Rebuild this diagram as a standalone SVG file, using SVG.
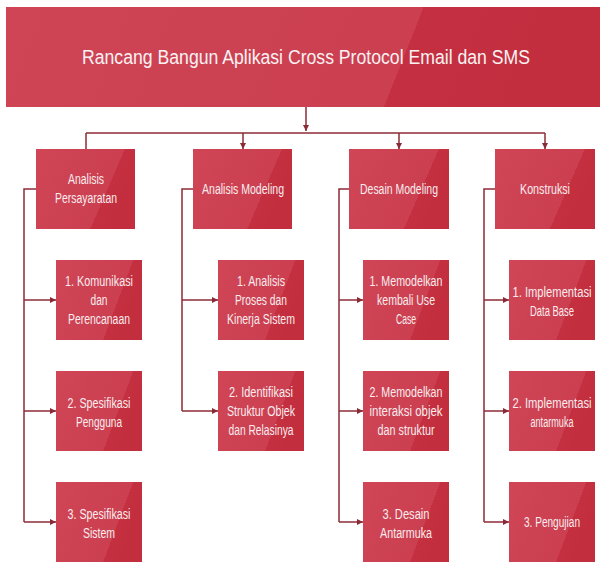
<svg xmlns="http://www.w3.org/2000/svg" width="600" height="564" viewBox="0 0 600 564">
  <defs>
    <!-- two-tone red fill with a diagonal sheen split -->
    <linearGradient id="boxFill" x1="0" y1="0" x2="1" y2="0.35">
      <stop offset="0" stop-color="#D04657"/>
      <stop offset="0.8" stop-color="#CB3F50"/>
      <stop offset="0.8" stop-color="#C43040"/>
      <stop offset="1" stop-color="#C22E3E"/>
    </linearGradient>
    <linearGradient id="titleFill" x1="0" y1="0" x2="1" y2="0.067">
      <stop offset="0" stop-color="#CF4556"/>
      <stop offset="0.70" stop-color="#CB3F50"/>
      <stop offset="0.70" stop-color="#C43041"/>
      <stop offset="1" stop-color="#C22E3E"/>
    </linearGradient>
    <marker id="arrow" markerWidth="6" markerHeight="6" refX="6" refY="3" orient="auto" markerUnits="userSpaceOnUse">
      <path d="M0,0 L6,3 L0,6 z" fill="#8B2935"/>
    </marker>
  </defs>
  <style>
    .box { fill: url(#boxFill); }
    .title { fill: url(#titleFill); }
    .lbl { font-family: "Liberation Sans", Arial, sans-serif; font-size: 14px; fill: #F8ECEE; text-anchor: middle; }
    .ttl { font-family: "Liberation Sans", Arial, sans-serif; font-size: 20px; fill: #FAF2F3; text-anchor: middle; }
    .conn { fill: none; stroke: #8E2B37; stroke-width: 1.5; }
  </style>
  <rect width="600" height="564" fill="#FFFFFF"/>

  <!-- connectors -->
  <g id="connectors">
    <path class="conn" d="M306,107 V131" marker-end="url(#arrow)"/>
    <path class="conn" d="M86,133 H545"/>
    <path class="conn" d="M86,133 V149"/>
    <path class="conn" d="M243,133 V149" marker-end="url(#arrow)"/>
    <path class="conn" d="M399,133 V149" marker-end="url(#arrow)"/>
    <path class="conn" d="M545,133 V149" marker-end="url(#arrow)"/>

    <path class="conn" d="M36,189 H24 V522"/>
    <path class="conn" d="M24,300 H56" marker-end="url(#arrow)"/>
    <path class="conn" d="M24,411 H56" marker-end="url(#arrow)"/>
    <path class="conn" d="M24,522 H56" marker-end="url(#arrow)"/>

    <path class="conn" d="M193,189 H182 V411"/>
    <path class="conn" d="M182,300 H218" marker-end="url(#arrow)"/>
    <path class="conn" d="M182,411 H218" marker-end="url(#arrow)"/>

    <path class="conn" d="M349,189 H339 V522"/>
    <path class="conn" d="M339,300 H363" marker-end="url(#arrow)"/>
    <path class="conn" d="M339,411 H363" marker-end="url(#arrow)"/>
    <path class="conn" d="M339,522 H363" marker-end="url(#arrow)"/>

    <path class="conn" d="M495,189 H484 V522"/>
    <path class="conn" d="M484,300 H509" marker-end="url(#arrow)"/>
    <path class="conn" d="M484,411 H509" marker-end="url(#arrow)"/>
    <path class="conn" d="M484,522 H509" marker-end="url(#arrow)"/>
  </g>

  <!-- root -->
  <g id="root">
    <rect class="title" x="6" y="7" width="594" height="100"/>
    <text class="ttl" x="306" y="64" textLength="448" lengthAdjust="spacingAndGlyphs">Rancang Bangun Aplikasi Cross Protocol Email dan SMS</text>
  </g>

  <!-- phases -->
  <g id="analisis-persyaratan">
    <rect class="box" x="36" y="149" width="99" height="80"/>
    <text class="lbl" x="86" y="184" textLength="36" lengthAdjust="spacingAndGlyphs">Analisis</text>
    <text class="lbl" x="86" y="203" textLength="62" lengthAdjust="spacingAndGlyphs">Persayaratan</text>
  </g>
  <g id="analisis-modeling">
    <rect class="box" x="193" y="149" width="99" height="80"/>
    <text class="lbl" x="243" y="194" textLength="82" lengthAdjust="spacingAndGlyphs">Analisis Modeling</text>
  </g>
  <g id="desain-modeling">
    <rect class="box" x="349" y="149" width="100" height="80"/>
    <text class="lbl" x="399" y="194" textLength="78" lengthAdjust="spacingAndGlyphs">Desain Modeling</text>
  </g>
  <g id="konstruksi">
    <rect class="box" x="495" y="149" width="100" height="80"/>
    <text class="lbl" x="545" y="194" textLength="50" lengthAdjust="spacingAndGlyphs">Konstruksi</text>
  </g>

  <!-- column 1 tasks -->
  <g id="komunikasi">
    <rect class="box" x="56" y="260" width="86" height="80"/>
    <text class="lbl" x="99" y="286" textLength="68" lengthAdjust="spacingAndGlyphs">1. Komunikasi</text>
    <text class="lbl" x="99" y="305" textLength="17" lengthAdjust="spacingAndGlyphs">dan</text>
    <text class="lbl" x="99" y="324" textLength="62" lengthAdjust="spacingAndGlyphs">Perencanaan</text>
  </g>
  <g id="spesifikasi-pengguna">
    <rect class="box" x="56" y="371" width="86" height="80"/>
    <text class="lbl" x="99" y="408" textLength="63" lengthAdjust="spacingAndGlyphs">2. Spesifikasi</text>
    <text class="lbl" x="99" y="427" textLength="46" lengthAdjust="spacingAndGlyphs">Pengguna</text>
  </g>
  <g id="spesifikasi-sistem">
    <rect class="box" x="56" y="482" width="86" height="80"/>
    <text class="lbl" x="99" y="519" textLength="63" lengthAdjust="spacingAndGlyphs">3. Spesifikasi</text>
    <text class="lbl" x="99" y="538" textLength="32" lengthAdjust="spacingAndGlyphs">Sistem</text>
  </g>

  <!-- column 2 tasks -->
  <g id="analisis-proses">
    <rect class="box" x="218" y="260" width="86" height="80"/>
    <text class="lbl" x="261" y="286" textLength="48" lengthAdjust="spacingAndGlyphs">1. Analisis</text>
    <text class="lbl" x="261" y="305" textLength="52" lengthAdjust="spacingAndGlyphs">Proses dan</text>
    <text class="lbl" x="261" y="324" textLength="68" lengthAdjust="spacingAndGlyphs">Kinerja Sistem</text>
  </g>
  <g id="identifikasi-struktur">
    <rect class="box" x="218" y="371" width="86" height="80"/>
    <text class="lbl" x="261" y="397" textLength="64" lengthAdjust="spacingAndGlyphs">2. Identifikasi</text>
    <text class="lbl" x="261" y="416" textLength="68" lengthAdjust="spacingAndGlyphs">Struktur Objek</text>
    <text class="lbl" x="261" y="435" textLength="65" lengthAdjust="spacingAndGlyphs">dan Relasinya</text>
  </g>

  <!-- column 3 tasks -->
  <g id="memodelkan-use-case">
    <rect class="box" x="363" y="260" width="86" height="80"/>
    <text class="lbl" x="406" y="286" textLength="73" lengthAdjust="spacingAndGlyphs">1. Memodelkan</text>
    <text class="lbl" x="406" y="305" textLength="58" lengthAdjust="spacingAndGlyphs">kembali Use</text>
    <text class="lbl" x="406" y="324" textLength="20" lengthAdjust="spacingAndGlyphs">Case</text>
  </g>
  <g id="memodelkan-interaksi">
    <rect class="box" x="363" y="371" width="86" height="80"/>
    <text class="lbl" x="406" y="397" textLength="73" lengthAdjust="spacingAndGlyphs">2. Memodelkan</text>
    <text class="lbl" x="406" y="416" textLength="73" lengthAdjust="spacingAndGlyphs">interaksi objek</text>
    <text class="lbl" x="406" y="435" textLength="57" lengthAdjust="spacingAndGlyphs">dan struktur</text>
  </g>
  <g id="desain-antarmuka">
    <rect class="box" x="363" y="482" width="86" height="80"/>
    <text class="lbl" x="406" y="519" textLength="47" lengthAdjust="spacingAndGlyphs">3. Desain</text>
    <text class="lbl" x="406" y="538" textLength="52" lengthAdjust="spacingAndGlyphs">Antarmuka</text>
  </g>

  <!-- column 4 tasks -->
  <g id="implementasi-database">
    <rect class="box" x="509" y="260" width="86" height="80"/>
    <text class="lbl" x="552" y="297" textLength="79" lengthAdjust="spacingAndGlyphs">1. Implementasi</text>
    <text class="lbl" x="552" y="316" textLength="44" lengthAdjust="spacingAndGlyphs">Data Base</text>
  </g>
  <g id="implementasi-antarmuka">
    <rect class="box" x="509" y="371" width="86" height="80"/>
    <text class="lbl" x="552" y="408" textLength="79" lengthAdjust="spacingAndGlyphs">2. Implementasi</text>
    <text class="lbl" x="552" y="427" textLength="43" lengthAdjust="spacingAndGlyphs">antarmuka</text>
  </g>
  <g id="pengujian">
    <rect class="box" x="509" y="482" width="86" height="80"/>
    <text class="lbl" x="552" y="527" textLength="56" lengthAdjust="spacingAndGlyphs">3. Pengujian</text>
  </g>
</svg>
